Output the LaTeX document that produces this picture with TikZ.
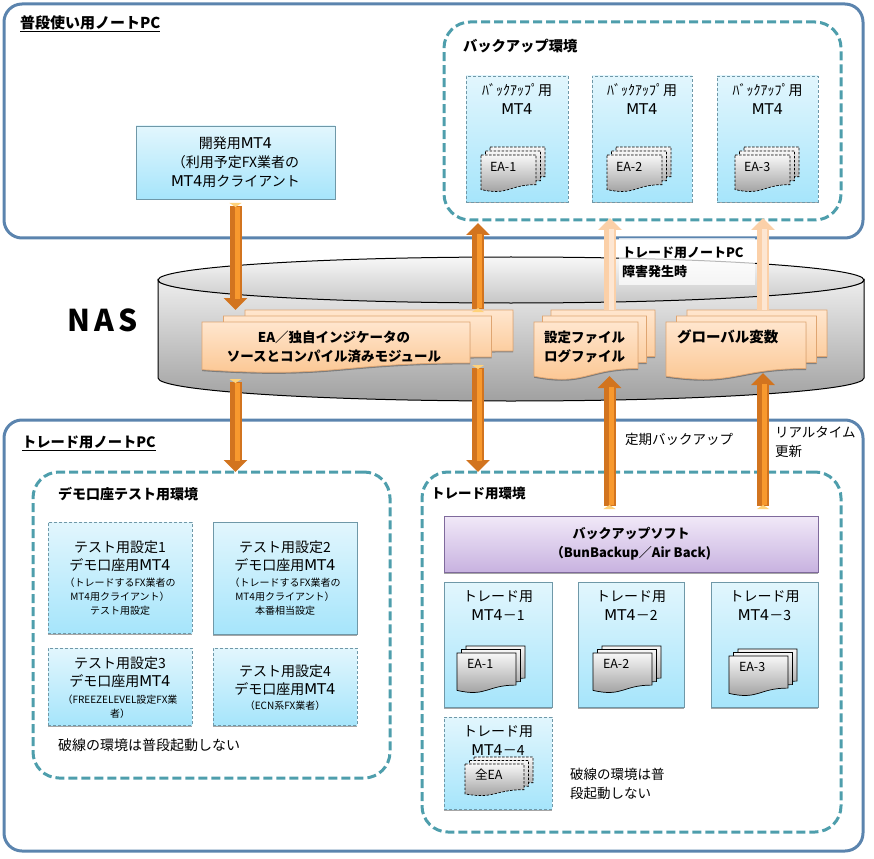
\documentclass[tikz,border=0pt]{standalone}
\usepackage{fontspec}
\setmainfont{Noto Sans CJK JP}
\newfontfamily\nasfont[LetterSpace=14]{Noto Sans CJK JP}
\newfontfamily\wideface[Scale=1.06]{DejaVu Sans}
\usetikzlibrary{arrows.meta,calc,shadows}
\definecolor{outerblue}{HTML}{5B84AE}
\definecolor{envteal}{HTML}{4E9EAC}
\definecolor{mtborder}{HTML}{6F98A8}
\definecolor{mttop}{HTML}{E2F6FD}
\definecolor{mtbot}{HTML}{A6E5FB}
\definecolor{pagetop}{HTML}{FFE6CE}
\definecolor{pagebot}{HTML}{FBC48E}
\definecolor{pageline}{HTML}{DFA571}
\definecolor{flowdark}{HTML}{D2741F}
\definecolor{flowlight}{HTML}{F8992E}
\definecolor{flowcap}{HTML}{FFD27A}
\definecolor{palearrow}{HTML}{FBD0A8}
\definecolor{palestrip}{HTML}{FDE6D2}
\definecolor{purpletop}{HTML}{F1E9F8}
\definecolor{purplebot}{HTML}{C8B2E0}
\definecolor{purpleline}{HTML}{7F6A9C}
\newcommand{\mtname}{{\wideface MT4}}
\newcommand{\docpage}[5]{%
\begin{scope}[shift={(#1,#2)}]
\draw [#5] (0,0) -- (#3,0) -- (#3,{-.802*#4}) .. controls ({.5*#3},{-.802*#4}) and ({.5*#3},{-1.107*#4}) .. (0,{-.934*#4}) -- cycle;
\end{scope}}
\newcommand{\docstack}[7]{%
\docpage{#1+2*#5}{#2+2*#6}{#3}{#4}{#7}
\docpage{#1+#5}{#2+#6}{#3}{#4}{#7}
\docpage{#1}{#2}{#3}{#4}{#7}}
\begin{document}
\begin{tikzpicture}[x=1pt,y=1pt]
\tikzstyle{every node}+=[inner sep=0pt,outer sep=0pt]
\tikzstyle{outerbox}=[draw=outerblue,line width=3pt,rounded corners=18pt,anchor=north west]
\tikzstyle{envbox}=[draw=envteal,line width=3pt,rounded corners=26pt,anchor=north west,dash pattern=on 9pt off 4pt]
\tikzstyle{softshadow}=[drop shadow={shadow xshift=0pt,shadow yshift=-1.5pt,opacity=.35,fill=black}]
\tikzstyle{mtbox}=[draw=mtborder,line width=.7pt,top color=mttop,bottom color=mtbot,anchor=north west,softshadow]
\tikzstyle{mtdash}=[mtbox,dashed,dash pattern=on 3pt off 2pt]
\tikzstyle{softbox}=[draw=purpleline,line width=.8pt,top color=purpletop,bottom color=purplebot,anchor=north west,softshadow,align=center,font=\fontsize{13}{19}\selectfont\bfseries]
\tikzstyle{boxtext}=[align=center,font=\fontsize{14}{19}\selectfont]
\tikzstyle{title}=[anchor=west,font=\fontsize{14.3}{19}\selectfont\bfseries]
\tikzstyle{note}=[anchor=west,align=left,font=\fontsize{13.5}{19}\selectfont]
\tikzstyle{tiny}=[anchor=west,font=\fontsize{12.5}{14}\selectfont]
\tikzstyle{nasdoc}=[draw=pageline,line width=.7pt,top color=pagetop,bottom color=pagebot,drop shadow={shadow xshift=0pt,shadow yshift=-1.5pt,opacity=.3,fill=black}]
\tikzstyle{eadoc}=[draw=black,line width=.7pt,top color=black!3,bottom color=black!40]
\tikzstyle{eadash}=[eadoc,dashed,dash pattern=on 2.5pt off 1.5pt]
\tikzstyle{flow}=[line width=12pt,draw=flowdark,{Triangle[reversed,length=4pt,width=12pt,color=flowcap]}-{Triangle[length=12pt,width=23pt]},postaction={draw=flowlight,line width=5pt,-,transform canvas={xshift=1.5pt},shorten >=11pt,shorten <=4pt}]
\tikzstyle{flowup}=[line width=12pt,draw=palearrow,-{Triangle[length=12pt,width=23pt]},postaction={draw=palestrip,line width=5pt,-,transform canvas={xshift=1.5pt},shorten >=11pt}]
\useasboundingbox (0,0) rectangle (874,-858);
\node [outerbox,minimum width=859pt,minimum height=234pt] (notepc) at (4,-4) {};
\node [outerbox,minimum width=859pt,minimum height=431pt] (tradepc) at (4,-420) {};
\node [title,font=\fontsize{15}{19}\selectfont\bfseries] (notepctitle) at (20,-24) {\underline{普段使い用ノートPC}};
\node [title] (tradepctitle) at (22,-443) {\underline{トレード用ノートPC}};
\path [draw=black,line width=1pt,top color=black!7,bottom color=black!37] (158,-280) -- (158,-378) arc [start angle=180,end angle=360,x radius=353,y radius=23] -- (864,-280) arc [start angle=0,end angle=-180,x radius=353,y radius=22] -- cycle;
\path [draw=black,line width=1pt,top color=black!3,bottom color=black!22] (511,-280) ellipse [x radius=353,y radius=23];
\node [anchor=west,font=\fontsize{30}{34}\selectfont\nasfont\bfseries] (nas) at (67,-320) {NAS};
\node [fill=white,fill opacity=.72,anchor=north west,minimum width=136pt,minimum height=47pt] (faultbg) at (619,-238) {};
\node [note,font=\fontsize{13}{19}\selectfont\bfseries] (faultnote) at (622,-262) {トレード用ノートPC\\障害発生時};
\node [envbox,minimum width=397pt,minimum height=198pt] (backupenv) at (444,-22) {};
\node [title] (backuptitle) at (463,-46) {バックアップ環境};
\node [mtbox,minimum width=199pt,minimum height=73pt,boxtext] (devmt) at (136,-126) {開発用\mtname\\（利用予定FX業者の\\\mtname 用クライアント};
\node [mtdash,minimum width=102pt,minimum height=126pt] (bk1) at (466,-76) {};
\node [mtdash,minimum width=100pt,minimum height=126pt] (bk2) at (592,-76) {};
\node [mtdash,minimum width=101pt,minimum height=126pt] (bk3) at (717,-76) {};
\node [boxtext,anchor=north] (bk1text) at ([yshift=-8pt]bk1.north) {ﾊﾞｯｸｱｯﾌﾟ用\\\mtname};
\node [boxtext,anchor=north] (bk2text) at ([yshift=-8pt]bk2.north) {ﾊﾞｯｸｱｯﾌﾟ用\\\mtname};
\node [boxtext,anchor=north] (bk3text) at ([yshift=-8pt]bk3.north) {ﾊﾞｯｸｱｯﾌﾟ用\\\mtname};
\docstack{481}{-155}{55}{37}{4.5}{4}{eadash}
\docstack{607}{-155}{55}{37}{4.5}{4}{eadash}
\docstack{735}{-155}{55}{37}{4.5}{4}{eadash}
\node [tiny] (bkea1) at (490,-167) {EA-1};
\node [tiny] (bkea2) at (616,-167) {EA-2};
\node [tiny] (bkea3) at (744,-167) {EA-3};
\docstack{202}{-322}{268}{51}{21.5}{6}{nasdoc}
\docstack{534}{-322}{104}{58}{8.5}{6}{nasdoc}
\docstack{666}{-322}{140}{58}{10.5}{6}{nasdoc}
\node [boxtext,font=\fontsize{13.5}{19}\selectfont\bfseries] (sourcedoc) at (334,-346.5) {EA／独自インジケータの\\ソースとコンパイル済みモジュール};
\node [note,font=\fontsize{13.5}{19}\selectfont\bfseries] (logdoc) at (544,-346.5) {設定ファイル\\ログファイル};
\node [note,font=\fontsize{14.5}{19}\selectfont\bfseries] (globaldoc) at (677,-337) {グローバル変数};
\coordinate (sourcetop) at (235.5,-310);
\coordinate (sourcelow) at (235.5,-379);
\coordinate (backuptop) at (478,-312);
\coordinate (backuplow) at (478,-365);
\coordinate (logtop) at (610,-310);
\coordinate (logarrow) at (609.5,-376);
\coordinate (globaltop) at (763,-310);
\coordinate (globalarrow) at (763,-373);
\node [note] (periodic) at (625,-439) {定期バックアップ};
\node [note] (realtime) at (775,-442.5) {リアルタイム\\更新};
\node [envbox,minimum width=357pt,minimum height=306pt] (testenv) at (33,-472) {};
\node [title,font=\fontsize{14}{19}\selectfont\bfseries] (testtitle) at (58,-494) {デモ口座テスト用環境};
\node [mtdash,minimum width=144pt,minimum height=111pt] (test1) at (48,-522) {};
\node [mtbox,minimum width=144pt,minimum height=112pt] (test2) at (213,-522) {};
\node [mtdash,minimum width=144pt,minimum height=77pt] (test3) at (48,-648) {};
\node [mtdash,minimum width=144pt,minimum height=77pt] (test4) at (213,-648) {};
\node [boxtext,anchor=north] (test1text) at ([yshift=-19pt]test1.north) {テスト用設定1\\[-1pt]デモ口座用\mtname\\[-3pt]{\fontsize{10}{14}\selectfont （トレードするFX業者の}\\[-5pt]{\fontsize{10}{14}\selectfont MT4用クライアント）}\\[-5pt]{\fontsize{10}{14}\selectfont テスト用設定}};
\node [boxtext,anchor=north] (test2text) at ([yshift=-19pt]test2.north) {テスト用設定2\\[-1pt]デモ口座用\mtname\\[-3pt]{\fontsize{10}{14}\selectfont （トレードするFX業者の}\\[-5pt]{\fontsize{10}{14}\selectfont MT4用クライアント）}\\[-5pt]{\fontsize{10}{14}\selectfont 本番相当設定}};
\node [boxtext,anchor=north] (test3text) at ([yshift=-9pt]test3.north) {テスト用設定3\\[-1pt]デモ口座用\mtname\\[-2pt]{\fontsize{10}{14}\selectfont （FREEZELEVEL設定FX業}\\[-5pt]{\fontsize{10}{14}\selectfont 者）}};
\node [boxtext,anchor=north] (test4text) at ([yshift=-17pt]test4.north) {テスト用設定4\\[-1pt]デモ口座用\mtname\\[-4pt]{\fontsize{10}{14}\selectfont （ECN系FX業者）}};
\node [note,font=\fontsize{14}{19}\selectfont] (testnote) at (58,-745.5) {破線の環境は普段起動しない};
\node [envbox,minimum width=419pt,minimum height=360pt] (tradeenv) at (422,-472) {};
\node [title,font=\fontsize{13.5}{19}\selectfont\bfseries] (tradetitle) at (431,-493) {トレード用環境};
\node [softbox,minimum width=374pt,minimum height=56pt] (backupsoft) at (444,-516) {バックアップソフト\\（BunBackup／Air Back)};
\node [mtbox,minimum width=108pt,minimum height=125pt] (tr1) at (444,-582) {};
\node [mtbox,minimum width=106pt,minimum height=125pt] (tr2) at (578,-582) {};
\node [mtbox,minimum width=107pt,minimum height=125pt] (tr3) at (711,-582) {};
\node [mtdash,minimum width=108pt,minimum height=92pt] (tr4) at (444,-717) {};
\node [boxtext,anchor=north] (tr1text) at ([yshift=-8.5pt]tr1.north) {トレード用\\\mtname－1};
\node [boxtext,anchor=north] (tr2text) at ([yshift=-8.5pt]tr2.north) {トレード用\\\mtname－2};
\node [boxtext,anchor=north] (tr3text) at ([yshift=-8.5pt]tr3.north) {トレード用\\\mtname－3};
\node [boxtext,anchor=north] (tr4text) at ([yshift=-8.5pt]tr4.north) {トレード用\\\mtname－4};
\docstack{465}{-764}{59}{32}{4.5}{3.5}{eadash}
\docstack{457}{-653}{59}{40}{4.5}{3.5}{eadoc}
\docstack{593}{-653}{59}{40}{4.5}{3.5}{eadoc}
\docstack{729}{-656}{59}{40}{4.5}{3.5}{eadoc}
\node [tiny] (trea1) at (467,-664) {EA-1};
\node [tiny] (trea2) at (603,-664) {EA-2};
\node [tiny] (trea3) at (739,-667) {EA-3};
\node [tiny] (trea4) at (475,-775) {全EA};
\node [note] (tradenote) at (570,-783.5) {破線の環境は普\\段起動しない};
\draw [flow] ([yshift=-4pt]devmt.south) -- (sourcetop);
\draw [flow] (sourcelow) -- (sourcelow |- testenv.north);
\draw [flow] (backuptop) -- ([yshift=-3pt]backuptop |- backupenv.south);
\draw [flow] (backuplow) -- (backuplow |- tradeenv.north);
\draw [flowup] (logtop) -- ([yshift=2pt]logtop |- backupenv.south);
\draw [flowup] (globaltop) -- ([yshift=2pt]globaltop |- backupenv.south);
\draw [flow] ([yshift=7pt]logarrow |- backupsoft.north) -- (logarrow);
\draw [flow] ([yshift=7pt]globalarrow |- backupsoft.north) -- (globalarrow);
\end{tikzpicture}
\end{document}
